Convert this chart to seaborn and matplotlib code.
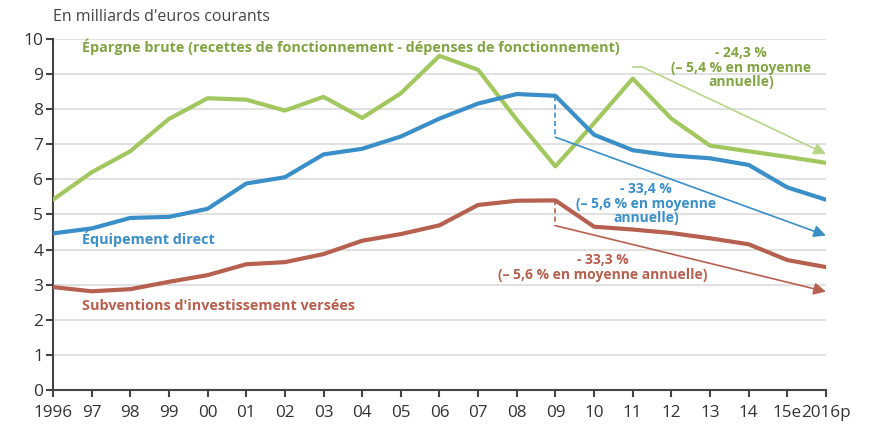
import numpy as np
import pandas as pd
import seaborn as sb
import matplotlib.pyplot as plt

# data (milliards d'euros courants)
years = ['1996', '97', '98', '99', '00', '01', '02', '03', '04', '05', '06',
         '07', '08', '09', '10', '11', '12', '13', '14', '15e', '2016p']
epargne = [5.42, 6.2, 6.8, 7.72, 8.31, 8.27, 7.96, 8.35, 7.75, 8.45, 9.52,
           9.12, 7.7, 6.37, 7.6, 8.87, 7.73, 6.96, 6.8, 6.64, 6.47]
equipement = [4.46, 4.6, 4.9, 4.93, 5.16, 5.88, 6.06, 6.71, 6.87, 7.22, 7.73,
              8.16, 8.43, 8.38, 7.27, 6.83, 6.68, 6.6, 6.41, 5.77, 5.42]
subventions = [2.93, 2.81, 2.87, 3.08, 3.27, 3.58, 3.64, 3.87, 4.25, 4.44, 4.69,
               5.27, 5.39, 5.4, 4.65, 4.57, 4.47, 4.32, 4.15, 3.7, 3.5]

# trend arrows: (start index, start value, end value)
trend_epargne = (15, 9.2, 6.72)
trend_equip = (13, 7.2, 4.4)
trend_subv = (13, 4.68, 2.8)

green, green_txt, green_light = '#a3c75f', '#82a443', '#b8d68a'
blue, blue_txt = '#3a8fc8', '#3a8fc8'
red, red_txt = '#b6604f', '#b6604f'

df = pd.DataFrame({
    'x': list(range(len(years))) * 3,
    'val': epargne + equipement + subventions,
    'serie': ['epargne'] * len(years) + ['equip'] * len(years) + ['subv'] * len(years),
})

sb.set_style('white')
plt.rcParams['font.family'] = ['Open Sans', 'DejaVu Sans']

fig = plt.figure(figsize=(8.77, 4.28), dpi=100)
ax = fig.add_axes([0.0604, 0.089, 0.8814, 0.82])

for y in range(1, 11):
    ax.axhline(y, color='#dcdcdc', lw=1.2, zorder=0)

sb.lineplot(data=df, x='x', y='val', hue='serie',
            palette={'epargne': green, 'equip': blue, 'subv': red},
            linewidth=3, legend=False, ax=ax, zorder=3)

last = len(years) - 1
# dashed connectors at 2009
ax.plot([13, 13], [equipement[13], trend_equip[1]], ls=(0, (3, 2)), color=blue, lw=1.2)
ax.plot([13, 13], [subventions[13], trend_subv[1]], ls=(0, (3, 2)), color=red, lw=1.2)
ax.plot([15, 15.25], [trend_epargne[1], trend_epargne[1]], color=green_light, lw=1.3)

for (i0, v0, v1), col in [(trend_epargne, green_light), (trend_equip, blue), (trend_subv, red)]:
    start = i0 + 0.25 if col == green_light else i0
    ax.annotate('', xy=(last, v1), xytext=(start, v0),
                arrowprops=dict(arrowstyle='-|>', color=col, lw=1.2,
                                mutation_scale=18, shrinkA=0, shrinkB=0), zorder=4)

ax.text(0.75, 9.78, "Épargne brute (recettes de fonctionnement - dépenses de fonctionnement)",
        color=green_txt, fontsize=10.4, fontweight='bold', va='center')
ax.text(0.75, 4.3, "Équipement direct", color=blue_txt, fontsize=10.4, fontweight='bold', va='center')
ax.text(0.75, 2.4, "Subventions d'investissement versées", color=red_txt, fontsize=10.4,
        fontweight='bold', va='center')

ax.text(17.8, 9.18, "- 24,3 %\n(– 5,4 % en moyenne\nannuelle)", color=green_txt, fontsize=10,
        fontweight='bold', ha='center', va='center', linespacing=1.05)
ax.text(15.35, 5.3, "- 33,4 %\n(– 5,6 % en moyenne\nannuelle)", color=blue_txt, fontsize=10,
        fontweight='bold', ha='center', va='center', linespacing=1.05)
ax.text(14.23, 3.48, "- 33,3 %\n(– 5,6 % en moyenne annuelle)", color=red_txt, fontsize=10,
        fontweight='bold', ha='center', va='center', linespacing=1.05)

fig.text(0.0604, 0.96, "En milliards d'euros courants", color='#444444', fontsize=11.5, va='center')

ax.set_xlim(0, last)
ax.set_ylim(0, 10)
ax.set_xticks(range(len(years)))
ax.set_xticklabels(years, fontsize=12.3, color='#333333')
ax.set_yticks(range(0, 11))
ax.set_yticklabels([str(v) for v in range(0, 11)], fontsize=12.5, color='#333333')
ax.set_xlabel('')
ax.set_ylabel('')
ax.tick_params(axis='both', direction='out', length=5, width=1.5, color='#444444', pad=2,
               left=True, bottom=True)
ax.tick_params(axis='x', pad=6)
for side in ['top', 'right']:
    ax.spines[side].set_visible(False)
for side in ['left', 'bottom']:
    ax.spines[side].set_color('#444444')
    ax.spines[side].set_linewidth(1.5)

fig.savefig('out.png', dpi=100)
